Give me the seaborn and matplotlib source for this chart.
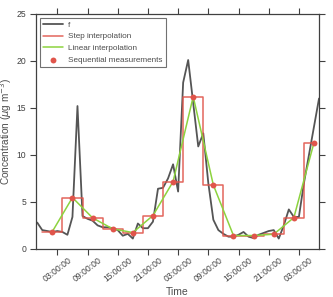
import pandas as pd
import numpy as np
import matplotlib
matplotlib.use('Agg')
import matplotlib.pyplot as plt
import matplotlib.dates as mdates
import seaborn as sns

# hourly "true" concentration f
f_start = '2015-01-01 23:00'
f_values = [2.8, 2.0, 1.9, 1.8, 1.9, 1.8, 1.5, 3.4, 15.2, 3.5,
            3.2, 3.0, 2.5, 2.3, 2.3, 2.2, 2.0, 1.4, 1.6, 1.1,
            2.7, 2.2, 2.2, 2.9, 6.4, 6.5, 7.5, 9.0, 6.1, 17.7,
            20.1, 15.5, 10.9, 12.3, 7.0, 3.1, 2.0, 1.6, 1.3, 1.3,
            1.5, 1.8, 1.3, 1.15, 1.5, 1.7, 1.9, 2.0, 1.1, 2.5,
            4.2, 3.4, 3.4, 7.0, 10.0, 13.0, 16.0]

# measurements every 4 hours
meas_start = '2015-01-02 02:00'
meas_values = [1.84, 5.46, 3.3, 2.13, 1.74, 3.55, 7.16,
               16.2, 6.8, 1.42, 1.42, 1.56, 3.33, 11.3]

f_time = pd.date_range(f_start, periods=len(f_values), freq='h')
meas_time = pd.date_range(meas_start, periods=len(meas_values), freq='4h')

df_f = pd.DataFrame({'time': f_time, 'f': f_values})
df_m = pd.DataFrame({'time': meas_time, 'value': meas_values})

# step interpolation: each measurement held +/- 2 hours around it
half = pd.Timedelta(hours=2)
step_x = list(meas_time - half) + [meas_time[-1]]
step_y = meas_values + [meas_values[-1]]

sns.set_theme(style='ticks', rc={'axes.edgecolor': '.25', 'xtick.color': '.25',
                                 'ytick.color': '.25', 'text.color': '.3',
                                 'axes.labelcolor': '.3'})
plt.rcParams['font.family'] = ['Liberation Sans', 'DejaVu Sans']

red = '#e0554b'
green = '#8dd33f'

fig, ax = plt.subplots(figsize=(3.33, 2.97), dpi=100)
sns.lineplot(data=df_f, x='time', y='f', color='#555555', lw=1.3, ax=ax, label='f')
ax.plot(step_x, step_y, drawstyle='steps-post', color=red, lw=1.1, alpha=0.9,
        label='Step interpolation')
sns.lineplot(data=df_m, x='time', y='value', color=green, lw=1.1, ax=ax,
             label='Linear interpolation')
sns.scatterplot(data=df_m, x='time', y='value', color=red, s=18, linewidth=0,
                ax=ax, zorder=5, label='Sequential measurements')

ax.set_xlim(f_time[0] - pd.Timedelta(minutes=15), f_time[-1])
ax.set_ylim(0, 25)
ax.set_yticks([0, 5, 10, 15, 20, 25])
ax.xaxis.set_major_locator(mdates.HourLocator(byhour=[3, 9, 15, 21]))
ax.xaxis.set_major_formatter(mdates.DateFormatter('%H:%M:%S'))
ax.tick_params(top=True, right=True, direction='out', length=4, width=0.8,
               labelsize=6.2)
ax.tick_params(axis='y', pad=3)
ax.tick_params(axis='x', pad=1)
plt.setp(ax.get_xticklabels(), rotation=38, ha='center')
for s in ax.spines.values():
    s.set_linewidth(0.9)

ax.set_xlabel('Time', fontsize=7.5, labelpad=2)
ax.set_ylabel(r'Concentration ($\mu$g m$^{-3}$)', fontsize=7.2, labelpad=1.5)

leg = ax.legend(loc='upper left', fontsize=5.9, frameon=True, fancybox=False,
                edgecolor='.3', handlelength=2.4, borderpad=0.4,
                borderaxespad=0.45, handletextpad=0.7, labelspacing=0.5)
leg.get_frame().set_linewidth(0.8)

fig.subplots_adjust(left=0.108, right=0.958, top=0.953, bottom=0.162)
fig.savefig('out.png', dpi=100)
